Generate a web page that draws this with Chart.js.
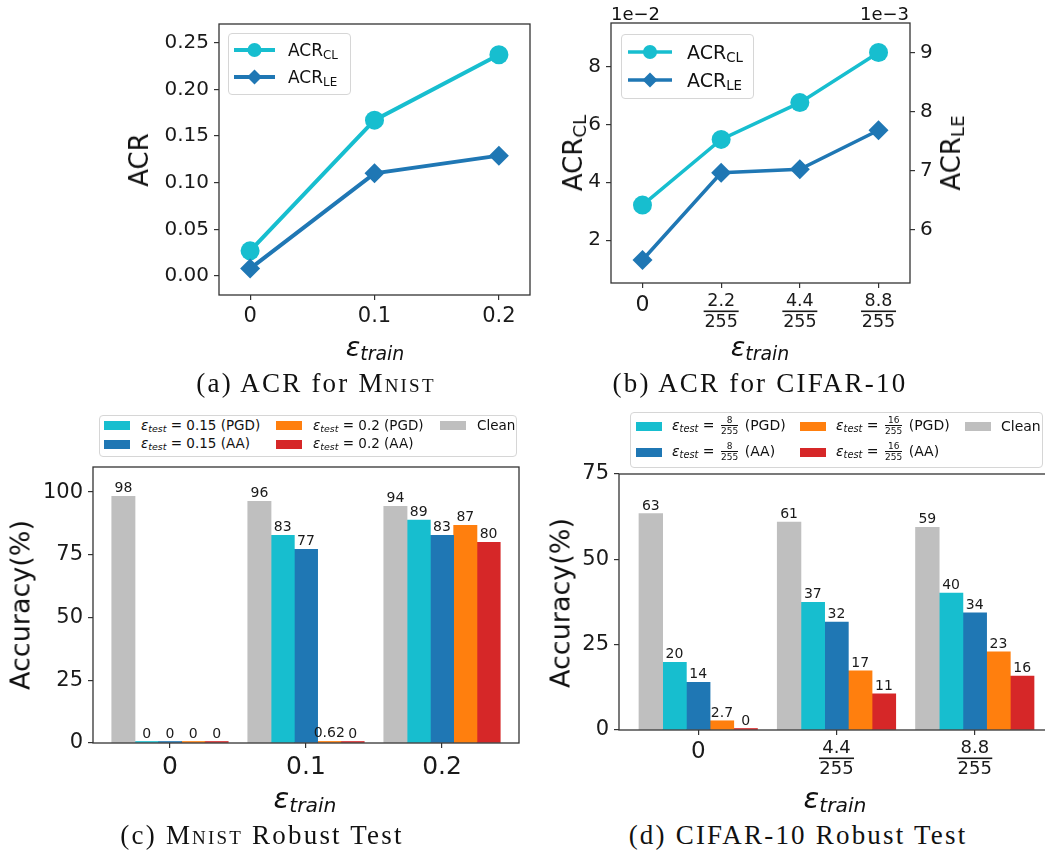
<!DOCTYPE html>
<html>
<head>
<meta charset="utf-8">
<title>ACR and robust accuracy</title>
<script src="https://cdn.jsdelivr.net/npm/chart.js@4.4.1/dist/chart.umd.min.js"></script>
<style>
  html, body { margin: 0; padding: 0; background: #fff; }
  body {
    width: 1045px; height: 850px; position: relative; overflow: hidden;
    font-family: "DejaVu Sans", sans-serif; color: #111;
  }
  canvas.panel { position: absolute; }
  .txt { position: absolute; white-space: nowrap; line-height: 1; transform: translate(-50%, -50%); }
  .txt.left { transform: translate(0, -50%); }
  .txt.right { transform: translate(-100%, -50%); }
  .txt.rot { transform: translate(-50%, -50%) rotate(-90deg); }
  .cap { font-family: "Liberation Serif", serif; font-size: 27px; letter-spacing: 2.2px; }
  .sc { font-variant: small-caps; }
  .eps { font-style: italic; }
  .sub { font-size: 0.7em; position: relative; top: 0.22em; }
  .legend {
    position: absolute; box-sizing: border-box; background: rgba(255,255,255,0.8);
    border: 1px solid #d6d6d6; border-radius: 4px;
  }
  .swatch { position: absolute; width: 26px; height: 9px; }
  .frac { display: inline-flex; flex-direction: column; align-items: center; vertical-align: middle;
          font-size: 9px; line-height: 1; margin: 0 2px; font-style: normal; }
  .frac span + span { border-top: 1px solid #111; padding-top: 1px; }
</style>
</head>
<body>
<canvas id="chartA" class="panel" width="420" height="340" style="left:120px;top:0px"></canvas>
<canvas id="chartB" class="panel" width="485" height="340" style="left:560px;top:0px"></canvas>
<canvas id="chartC" class="panel" width="530" height="340" style="left:0px;top:460px"></canvas>
<canvas id="chartD" class="panel" width="530" height="340" style="left:540px;top:460px"></canvas>

<script>
// ----- Data -----
// (a) MNIST: ACR vs eps_train
const mnistTrainEps = [0, 0.1, 0.2];
const mnistAcrCl    = [0.027, 0.167, 0.237];
const mnistAcrLe    = [0.008, 0.110, 0.129];
const mnistAcrTicks = [0, 0.05, 0.10, 0.15, 0.20, 0.25];

// (b) CIFAR-10: ACR vs eps_train (x positions are category indices)
const cifarTrainIdx   = [0, 1, 2, 3];
const cifarTrainNum   = ['0', '2.2', '4.4', '8.8'];
const cifarAcrCl      = [0.0321, 0.0548, 0.0675, 0.0848];
const cifarAcrLe      = [0.00549, 0.00697, 0.00703, 0.00769];
const cifarClTicks    = [0.02, 0.04, 0.06, 0.08];
const cifarLeTicks    = [0.006, 0.007, 0.008, 0.009];

// (c) MNIST robust test accuracy (%)
const mnistRobustIdx  = [0, 1, 2];
const mnistRobustCats = ['0', '0.1', '0.2'];
const mnistClean  = [98.3, 96.3, 94.3];
const mnistPgdLo  = [0, 82.8, 88.8];
const mnistAaLo   = [0, 77.2, 82.8];
const mnistPgdHi  = [0, 0.62, 86.8];
const mnistAaHi   = [0, 0, 80.0];
const mnistAccTicks = [0, 25, 50, 75, 100];

// (d) CIFAR-10 robust test accuracy (%)
const cifarRobustIdx = [0, 1, 2];
const cifarRobustNum = ['0', '4.4', '8.8'];
const cifarClean  = [63.4, 60.9, 59.4];
const cifarPgdLo  = [19.8, 37.4, 40.1];
const cifarAaLo   = [14.0, 31.6, 34.3];
const cifarPgdHi  = [2.7, 17.3, 22.9];
const cifarAaHi   = [0, 10.6, 15.8];
const cifarAccTicks = [0, 25, 50, 75];

// ----- Colours (matplotlib tab palette) -----
const CYAN = '#17becf', BLUE = '#1f77b4', ORANGE = '#ff7f0e', RED = '#d62728', GRAY = '#bfbfbf';
const INK = '#1a1a1a', SPINE = '#333333';

// ----- Helpers -----
const pts = (xs, ys) => xs.map((x, i) => ({ x, y: ys[i] }));
const fmt2 = v => String(Number(v.toPrecision(2)));

// fix an axis box size so the plot area lands where the reference has it
const fixW = w => s => { s.width = w; s.paddingTop = 0; s.paddingBottom = 0; };
const fixH = h => s => { s.height = h; s.paddingLeft = 0; s.paddingRight = 0; };
const setTicks = vals => s => { s.ticks = vals.map(v => ({ value: v })); };

function axis(extra) {
  return Object.assign({
    border: { display: false },
    grid: { drawOnChartArea: false, drawTicks: true, tickLength: 5, color: SPINE, lineWidth: 1.2, offset: false },
    offset: false
  }, extra);
}

// box around the plot area (matplotlib spines)
const frame = {
  id: 'frame',
  afterDraw(chart) {
    const { ctx, chartArea: a } = chart;
    ctx.save();
    ctx.strokeStyle = SPINE;
    ctx.lineWidth = 1.3;
    ctx.strokeRect(a.left, a.top, a.right - a.left, a.bottom - a.top);
    ctx.restore();
  }
};

// x tick labels written as stacked fractions (n / 255)
const fracTicks = {
  id: 'fracTicks',
  afterDraw(chart, args, opts) {
    const ctx = chart.ctx, sc = chart.scales.x, base = chart.chartArea.bottom;
    ctx.save();
    ctx.fillStyle = INK;
    ctx.textAlign = 'center';
    ctx.textBaseline = 'alphabetic';
    opts.nums.forEach((num, i) => {
      const x = sc.getPixelForValue(opts.idx[i]);
      if (num === '0') {
        ctx.font = opts.zeroSize + 'px "DejaVu Sans"';
        ctx.fillText(num, x, base + opts.zeroBase);
      } else {
        ctx.font = opts.fracSize + 'px "DejaVu Sans"';
        ctx.fillText(num, x, base + 23.3);
        ctx.fillRect(x - 17.5, base + 27.5, 35, 1.6);
        ctx.fillText('255', x, base + 44);
      }
    });
    ctx.restore();
  }
};

// value labels above bars
const barLabels = {
  id: 'barLabels',
  afterDatasetsDraw(chart) {
    const ctx = chart.ctx;
    ctx.save();
    ctx.font = '14px "DejaVu Sans"';
    ctx.fillStyle = INK;
    ctx.textAlign = 'center';
    ctx.textBaseline = 'alphabetic';
    chart.data.datasets.forEach((ds, i) => {
      chart.getDatasetMeta(i).data.forEach((bar, j) => {
        ctx.fillText(fmt2(ds.data[j].y), bar.x, bar.y - 4);
      });
    });
    ctx.restore();
  }
};

const tickFont = size => ({ family: 'DejaVu Sans', size });
const baseOptions = pad => ({
  responsive: false,
  animation: false,
  events: [],
  layout: { padding: pad },
  plugins: { legend: { display: false }, tooltip: { enabled: false } }
});

// ----- (a) ACR for MNIST -----
new Chart(document.getElementById('chartA'), {
  type: 'line',
  data: {
    datasets: [
      { data: pts(mnistTrainEps, mnistAcrCl), borderColor: CYAN, backgroundColor: CYAN, borderWidth: 4,
        pointStyle: 'circle', pointRadius: 9.5, pointBorderWidth: 0, order: 1 },
      { data: pts(mnistTrainEps, mnistAcrLe), borderColor: BLUE, backgroundColor: BLUE, borderWidth: 4,
        pointStyle: 'rectRot', pointRadius: 10, pointBorderWidth: 0, order: 0 }
    ]
  },
  options: Object.assign(baseOptions({ left: 0, top: 24, right: 9, bottom: 0 }), {
    scales: {
      x: axis({ type: 'linear', min: -0.025, max: 0.225, afterBuildTicks: setTicks(mnistTrainEps), afterFit: fixH(45),
        ticks: { color: INK, font: tickFont(21), padding: 4, maxRotation: 0, callback: v => String(v) } }),
      y: axis({ type: 'linear', min: -0.0203, max: 0.27, afterBuildTicks: setTicks(mnistAcrTicks), afterFit: fixW(99),
        ticks: { color: INK, font: tickFont(20), padding: 5, callback: v => v.toFixed(2) } })
    }
  }),
  plugins: [frame]
});

// ----- (b) ACR for CIFAR-10 (two y axes) -----
new Chart(document.getElementById('chartB'), {
  type: 'line',
  data: {
    datasets: [
      { data: pts(cifarTrainIdx, cifarAcrCl), yAxisID: 'y', borderColor: CYAN, backgroundColor: CYAN, borderWidth: 3.5,
        pointStyle: 'circle', pointRadius: 9.5, pointBorderWidth: 0, order: 1 },
      { data: pts(cifarTrainIdx, cifarAcrLe), yAxisID: 'y2', borderColor: BLUE, backgroundColor: BLUE, borderWidth: 3.5,
        pointStyle: 'rectRot', pointRadius: 10, pointBorderWidth: 0, order: 0 }
    ]
  },
  options: Object.assign(baseOptions({ left: 0, top: 23, right: 0, bottom: 0 }), {
    scales: {
      x: axis({ type: 'linear', min: -0.4, max: 3.4, afterBuildTicks: setTicks(cifarTrainIdx), afterFit: fixH(57),
        ticks: { display: false } }),
      y: axis({ type: 'linear', position: 'left', min: 0.0052, max: 0.095, afterBuildTicks: setTicks(cifarClTicks),
        afterFit: fixW(51), ticks: { color: INK, font: tickFont(20), padding: 5, callback: v => String(Math.round(v * 100)) } }),
      y2: axis({ type: 'linear', position: 'right', min: 0.0051, max: 0.00951, afterBuildTicks: setTicks(cifarLeTicks),
        afterFit: fixW(135), ticks: { color: INK, font: tickFont(20), padding: 5, callback: v => String(Math.round(v * 1000)) } })
    },
    plugins: { legend: { display: false }, tooltip: { enabled: false },
      fracTicks: { idx: cifarTrainIdx, nums: cifarTrainNum, zeroSize: 22, zeroBase: 27.5, fracSize: 17.5 } }
  }),
  plugins: [frame, fracTicks]
});

// ----- grouped bar helper -----
function barSets(xs, series, thickness) {
  return series.map(s => ({
    data: pts(xs, s.values), backgroundColor: s.color, borderWidth: 0,
    barThickness: thickness, minBarLength: 1.5
  }));
}

// ----- (c) MNIST robust test -----
new Chart(document.getElementById('chartC'), {
  type: 'bar',
  data: {
    datasets: barSets(mnistRobustIdx, [
      { values: mnistClean, color: GRAY },
      { values: mnistPgdLo, color: CYAN },
      { values: mnistAaLo,  color: BLUE },
      { values: mnistPgdHi, color: ORANGE },
      { values: mnistAaHi,  color: RED }
    ], 23.3)
  },
  options: Object.assign(baseOptions({ left: 0, top: 7, right: 11, bottom: 0 }), {
    scales: {
      x: axis({ type: 'linear', min: -0.566, max: 2.566, afterBuildTicks: setTicks(mnistRobustIdx), afterFit: fixH(57),
        ticks: { color: INK, font: tickFont(25), padding: 4, maxRotation: 0, callback: v => mnistRobustCats[v] } }),
      y: axis({ type: 'linear', min: 0, max: 110, afterBuildTicks: setTicks(mnistAccTicks), afterFit: fixW(93),
        ticks: { color: INK, font: tickFont(21), padding: 5 } })
    }
  }),
  plugins: [frame, barLabels]
});

// ----- (d) CIFAR-10 robust test -----
new Chart(document.getElementById('chartD'), {
  type: 'bar',
  data: {
    datasets: barSets(cifarRobustIdx, [
      { values: cifarClean, color: GRAY },
      { values: cifarPgdLo, color: CYAN },
      { values: cifarAaLo,  color: BLUE },
      { values: cifarPgdHi, color: ORANGE },
      { values: cifarAaHi,  color: RED }
    ], 23.7)
  },
  options: Object.assign(baseOptions({ left: 0, top: 14, right: 16, bottom: 0 }), {
    scales: {
      x: axis({ type: 'linear', min: -0.573, max: 2.573, afterBuildTicks: setTicks(cifarRobustIdx), afterFit: fixH(70),
        ticks: { display: false } }),
      y: axis({ type: 'linear', min: 0, max: 75, afterBuildTicks: setTicks(cifarAccTicks), afterFit: fixW(79),
        ticks: { color: INK, font: tickFont(21), padding: 5 } })
    },
    plugins: { legend: { display: false }, tooltip: { enabled: false },
      fracTicks: { idx: cifarRobustIdx, nums: cifarRobustNum, zeroSize: 23, zeroBase: 28.3, fracSize: 18 } }
  }),
  plugins: [frame, barLabels, fracTicks]
});

// ----- HTML text: axis titles, legends, captions -----
function addText(html, x, y, cls, style) {
  const d = document.createElement('div');
  d.className = 'txt ' + (cls || '');
  d.innerHTML = html;
  d.style.left = x + 'px';
  d.style.top = y + 'px';
  if (style) Object.assign(d.style, style);
  document.body.appendChild(d);
  return d;
}
function addBox(x, y, w, h) {
  const d = document.createElement('div');
  d.className = 'legend';
  Object.assign(d.style, { left: x + 'px', top: y + 'px', width: w + 'px', height: h + 'px' });
  document.body.appendChild(d);
}
function addSwatch(x, y, color) {
  const d = document.createElement('div');
  d.className = 'swatch';
  Object.assign(d.style, { left: x + 'px', top: (y - 4.5) + 'px', background: color });
  document.body.appendChild(d);
}
function addLineHandle(x, y, w, color, marker, lw) {
  const ns = 'http://www.w3.org/2000/svg';
  const svg = document.createElementNS(ns, 'svg');
  svg.setAttribute('width', w); svg.setAttribute('height', 20);
  Object.assign(svg.style, { position: 'absolute', left: x + 'px', top: (y - 10) + 'px' });
  const m = w / 2;
  let shape = marker === 'circle'
    ? `<circle cx="${m}" cy="10" r="7" fill="${color}"/>`
    : `<polygon points="${m - 7.5},10 ${m},2.5 ${m + 7.5},10 ${m},17.5" fill="${color}"/>`;
  svg.innerHTML = `<line x1="0" y1="10" x2="${w}" y2="10" stroke="${color}" stroke-width="${lw}"/>` + shape;
  document.body.appendChild(svg);
}

const epsTrain = size => `<span class="eps" style="font-size:${size}px">ε<span class="sub">train</span></span>`;
const acr = sub => `ACR<span class="sub">${sub}</span>`;
const epsTest = rhs => `<span class="eps">ε<span class="sub">test</span></span> = ${rhs}`;
const frac = (n, d) => `<span class="frac"><span>${n}</span><span>${d}</span></span>`;

// (a)
addText('ACR', 139, 160, 'rot', { fontSize: '26px' });
addText(epsTrain(27), 375, 346);
addBox(228, 33, 123, 62);
addLineHandle(234, 50, 41, CYAN, 'circle', 4);
addLineHandle(234, 77, 41, BLUE, 'diamond', 4);
addText(acr('CL'), 288, 50, 'left', { fontSize: '17px' });
addText(acr('LE'), 288, 77, 'left', { fontSize: '17px' });
addText('(a) ACR for <span class="sc">Mnist</span>', 316, 383, 'cap');

// (b)
addText('1e−2', 611, 14, 'left', { fontSize: '18px' });
addText('1e−3', 909, 14, 'right', { fontSize: '18px' });
addText(acr('CL'), 573, 153, 'rot', { fontSize: '26px' });
addText(acr('LE'), 951, 153, 'rot', { fontSize: '26px' });
addText(epsTrain(27), 760, 346);
addBox(621, 34, 133, 65);
addLineHandle(628, 52, 44, CYAN, 'circle', 3.5);
addLineHandle(628, 80, 44, BLUE, 'diamond', 3.5);
addText(acr('CL'), 687, 52, 'left', { fontSize: '19px' });
addText(acr('LE'), 687, 80, 'left', { fontSize: '19px' });
addText('(b) ACR for CIFAR-10', 760, 383, 'cap');

// (c)
addBox(99, 415, 418, 42);
[[104, 425.7, CYAN, epsTest('0.15 (PGD)')], [104, 444.3, BLUE, epsTest('0.15 (AA)')],
 [276, 425.7, ORANGE, epsTest('0.2 (PGD)')], [276, 444.3, RED, epsTest('0.2 (AA)')],
 [440, 425.7, GRAY, 'Clean']].forEach(([x, y, c, t]) => {
  addSwatch(x, y, c);
  addText(t, x + 37, y, 'left', { fontSize: '13.5px' });
});
addText('Accuracy(%)', 20, 605, 'rot', { fontSize: '27px' });
addText(epsTrain(29), 305, 798);
addText('(c) <span class="sc">Mnist</span> Robust Test', 262, 835, 'cap');

// (d)
addBox(630, 412, 413, 56);
[[636, 426, CYAN, epsTest(frac(8, 255) + ' (PGD)')], [636, 452.3, BLUE, epsTest(frac(8, 255) + ' (AA)')],
 [800, 426, ORANGE, epsTest(frac(16, 255) + ' (PGD)')], [800, 452.3, RED, epsTest(frac(16, 255) + ' (AA)')],
 [965, 426, GRAY, 'Clean']].forEach(([x, y, c, t]) => {
  addSwatch(x, y, c);
  addText(t, x + 36, y, 'left', { fontSize: '14px' });
});
addText('Accuracy(%)', 560, 603, 'rot', { fontSize: '27px' });
addText(epsTrain(29), 835, 798);
addText('(d) CIFAR-10 Robust Test', 798, 835, 'cap');
</script>
</body>
</html>
